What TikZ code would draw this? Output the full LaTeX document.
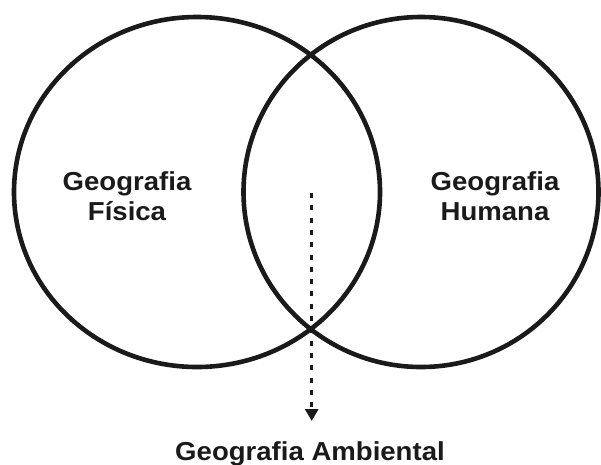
\documentclass[tikz,border=0pt]{standalone}
\usepackage{fontspec}
\setmainfont{Liberation Sans}
\usetikzlibrary{shapes.geometric,arrows.meta}
\definecolor{ink}{HTML}{1A1A1A}
\begin{document}
\begin{tikzpicture}[x=1pt,y=-1pt,
  ring/.style={ellipse,draw=ink,line width=4.6pt,inner sep=0pt},
  lbl/.style={font=\bfseries\fontsize{26}{30}\selectfont,text=ink,align=center,xscale=1.06,inner sep=0pt,anchor=base},
  dotarrow/.style={ink,line width=3pt,dash pattern=on 5pt off 7.3pt,-{Triangle[width=13pt,length=12pt]}}]
\useasboundingbox (0,0) rectangle (601,464);
\node[ring,minimum width=366pt,minimum height=350pt] (fis) at (197,192) {};
\node[ring,minimum width=355pt,minimum height=350pt] (hum) at (421,192) {};
\node[lbl] (tf) at (127,220) {Geografia\\Física};
\node[lbl] (th) at (495,220) {Geografia\\Humana};
\node[lbl] (amb) at (310,460) {Geografia Ambiental};
\coordinate (start) at (311.7,193);
\coordinate (end) at (311.7,421);
\draw[dotarrow] (start) -- (end);
\end{tikzpicture}
\end{document}
